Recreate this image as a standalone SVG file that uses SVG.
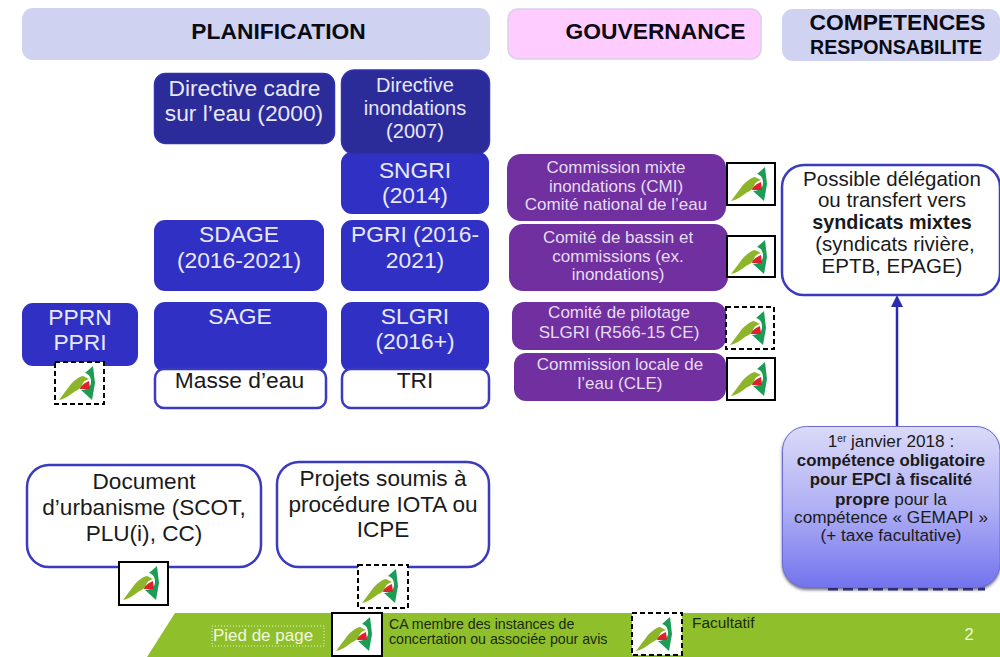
<svg xmlns="http://www.w3.org/2000/svg" width="1000" height="657" viewBox="0 0 1000 657">
<style>
text{font-family:"Liberation Sans",Arial,sans-serif;text-anchor:middle}
.hd{fill:#0a0a14;font-weight:bold;font-size:22.800px}
.w{fill:#e8e8f8;font-size:22.800px}
.w2{fill:#e8e8f8;font-size:20px}
.p{fill:#e6dcf0;font-size:17px}
.k{fill:#1a1a1a;font-size:22.800px}
.k2{fill:#1a1a1a;font-size:22.600px}
.c{fill:#1a1a1a;font-size:20.500px}
.s{fill:#1a1a1a;font-size:17.200px}
.f{fill:#1a2a10;font-size:14.200px;text-anchor:start}
.dk{fill:#2b2b99;stroke:#3232b4;stroke-width:1.5}
.bl{fill:#3030c4}
.pu{fill:#7030a0}
.wb{fill:#fff;stroke:#3b3bbf;stroke-width:2.5}
.lg{fill:#fff;stroke:#000;stroke-width:2}
.da{stroke-dasharray:5 3}
</style>
<defs>
<linearGradient id="g" x1="0" y1="0" x2="0" y2="1"><stop offset="0" stop-color="#dadaf8"/><stop offset="0.5" stop-color="#b0b0f5"/><stop offset="1" stop-color="#7373ee"/></linearGradient>
<g id="logo">
<path d="M4 38 L16 22 C20 18 25 14 28 14 L34 17 C30 18 28 20 27 23 C26 27 22 28 19 30 C14 34 9 37 4 38Z" fill="#8db52a"/>
<path d="M30 11 L38 4 L40 21 L37 38 L26 28 C33 28 36 24 36 20 C36 15 34 12 30 11Z" fill="#1d9c55"/>
<path d="M25 27 C26 23 30 21 34 19 L35 27Z" fill="#e0202c"/>
</g>
<filter id="sh" x="-5%" y="-5%" width="110%" height="110%"><feDropShadow dx="0" dy="2" stdDeviation="1.5" flood-color="#30305a" flood-opacity="0.7"/></filter>
</defs>
<rect width="1000" height="657" fill="#fff"/>

<g id="head-planification"><rect x="22" y="8" width="468" height="52" rx="11" fill="#cfd2f0"/><text class="hd" x="278.500" y="39">PLANIFICATION</text></g>
<g id="head-gouvernance"><rect x="508" y="9" width="253" height="50" rx="10" fill="#ffccff" stroke="#d9cfe8" stroke-width="1.5"/><text class="hd" x="655.500" y="39">GOUVERNANCE</text></g>
<g id="head-competences"><rect x="782" y="9" width="218" height="52" rx="11" fill="#cfd2f0"/><text class="hd" x="897.500" y="30">COMPETENCES</text><text class="hd" x="896" y="54" style="font-size:19.600px">RESPONSABILITE</text></g>

<g id="directive-cadre"><rect class="dk" x="154.500" y="73.500" width="180" height="70" rx="11"/><text class="w" x="244.500" y="96">Directive cadre</text><text class="w" x="244" y="121">sur l’eau (2000)</text></g>
<g id="sngri"><rect class="bl" x="341" y="152" width="148" height="62" rx="11"/><text class="w" x="415" y="178">SNGRI</text><text class="w" x="415" y="203">(2014)</text></g>
<g id="directive-inondations"><rect class="dk" x="341.500" y="70" width="148" height="84" rx="13"/><text class="w2" x="415" y="92">Directive</text><text class="w2" x="415" y="115">inondations</text><text class="w2" x="415" y="138">(2007)</text></g>
<g id="sdage"><rect class="bl" x="154" y="220" width="170" height="71" rx="11"/><text class="w" x="239" y="242">SDAGE</text><text class="w" x="239" y="268">(2016-2021)</text></g>
<g id="pgri"><rect class="bl" x="341" y="220" width="148" height="71" rx="11"/><text class="w" x="415" y="242">PGRI (2016-</text><text class="w" x="415" y="268">2021)</text></g>
<g id="pprn"><rect class="bl" x="22" y="303" width="116" height="63" rx="11"/><text class="w" x="80" y="325">PPRN</text><text class="w" x="80" y="350">PPRI</text></g>
<g id="logo-pprn"><rect class="lg da" x="55" y="362" width="49" height="42"/><use href="#logo" x="55" y="362"/></g>
<g id="sage"><rect class="bl" x="154" y="302" width="173" height="70" rx="11"/><text class="w" x="240" y="324">SAGE</text></g>
<g id="masse"><rect class="wb" x="155" y="369" width="171" height="39" rx="9"/><text class="k" x="239.500" y="388">Masse d’eau</text></g>
<g id="slgri"><rect class="bl" x="341" y="302" width="148" height="70" rx="11"/><text class="w" x="415" y="324">SLGRI</text><text class="w" x="415" y="349">(2016+)</text></g>
<g id="tri"><rect class="wb" x="342" y="369" width="147" height="39" rx="9"/><text class="k" x="415" y="388">TRI</text></g>

<g id="cmi"><rect class="pu" x="507" y="154" width="219" height="67" rx="14"/><text class="p" x="616" y="173">Commission mixte</text><text class="p" x="616" y="192">inondations (CMI)</text><text class="p" x="616" y="210">Comité national de l’eau</text></g>
<g id="logo-cmi"><rect class="lg" x="727" y="163" width="48" height="42"/><use href="#logo" x="727" y="163"/></g>
<g id="bassin"><rect class="pu" x="509" y="224" width="219" height="67" rx="14"/><text class="p" x="618" y="243">Comité de bassin et</text><text class="p" x="618" y="262">commissions (ex.</text><text class="p" x="618" y="280">inondations)</text></g>
<g id="logo-bassin"><rect class="lg" x="727" y="236" width="48" height="41"/><use href="#logo" x="727" y="236"/></g>
<g id="pilotage"><rect class="pu" x="512" y="302" width="214" height="48" rx="12"/><text class="p" x="619" y="318">Comité de pilotage</text><text class="p" x="619" y="338">SLGRI (R566-15 CE)</text></g>
<g id="logo-pilotage"><rect class="lg da" x="726" y="307" width="48" height="42"/><use href="#logo" x="726" y="307"/></g>
<g id="cle"><rect class="pu" x="514" y="353" width="212" height="48" rx="12"/><text class="p" x="620" y="370">Commission locale de</text><text class="p" x="620" y="389">l’eau (CLE)</text></g>
<g id="logo-cle"><rect class="lg" x="727" y="358" width="48" height="42"/><use href="#logo" x="727" y="358"/></g>

<g id="connectors"><path d="M897 426V305" stroke="#2a2ab0" stroke-width="2.500" fill="none"/><path d="M897 295l-6 12h12z" fill="#2a2ab0"/></g>

<g id="delegation"><rect class="wb" x="782" y="165" width="218" height="130" rx="22"/><text class="c" x="892" y="186">Possible délégation</text><text class="c" x="892" y="207">ou transfert vers</text><text class="c" x="892" y="229" font-weight="bold" style="font-size:19.800px">syndicats mixtes</text><text class="c" x="895" y="251">(syndicats rivière,</text><text class="c" x="892" y="273">EPTB, EPAGE)</text></g>
<g id="gemapi"><path d="M828 589H985" stroke="#26268c" stroke-width="3" stroke-dasharray="10 5"/><rect x="782.500" y="426.500" width="217.500" height="161" rx="24" fill="url(#g)" stroke="#6a6ad0" stroke-width="1" filter="url(#sh)"/>
<text class="s" x="891" y="447">1<tspan font-size="10" dy="-5">er</tspan><tspan dy="5"> janvier 2018 :</tspan></text><text class="s" x="891" y="466" font-weight="bold" style="font-size:16.800px">compétence obligatoire</text><text class="s" x="891" y="485" font-weight="bold" style="font-size:16.800px">pour EPCI à fiscalité</text><text class="s" x="891" y="505"><tspan font-weight="bold">propre</tspan> pour la</text><text class="s" x="891" y="523">compétence « GEMAPI »</text><text class="s" x="891" y="541">(+ taxe facultative)</text></g>

<g id="urbanisme"><rect class="wb" x="27" y="465" width="234" height="102" rx="22"/><text class="k2" x="144" y="489">Document</text><text class="k2" x="144" y="515">d’urbanisme (SCOT,</text><text class="k2" x="144" y="541">PLU(i), CC)</text></g>
<g id="logo-urbanisme"><rect class="lg" x="119" y="562" width="49" height="43"/><use href="#logo" x="119" y="562"/></g>
<g id="projets"><rect class="wb" x="277" y="462" width="212" height="105" rx="22"/><text class="k2" x="383" y="486">Projets soumis à</text><text class="k2" x="383" y="512">procédure IOTA ou</text><text class="k2" x="383" y="537">ICPE</text></g>
<g id="logo-projets"><rect class="lg da" x="358" y="565" width="50" height="43"/><use href="#logo" x="358" y="565"/></g>

<g id="footer"><path d="M175 613H1000V657H147Z" fill="#8fc02b"/>
<rect x="212" y="626" width="112" height="20" fill="none" stroke="#e8f2c8" stroke-dasharray="1 2"/><text x="263" y="641" style="font-size:17px" fill="#f2f7e0">Pied de page</text>
<rect class="lg" x="332" y="613" width="50" height="43"/><use href="#logo" x="332" y="613"/>
<text class="f" x="389" y="629">CA membre des instances de</text><text class="f" x="389" y="644">concertation ou associée pour avis</text>
<rect class="lg da" x="632" y="613" width="50" height="42"/><use href="#logo" x="632" y="613"/>
<text class="f" x="692" y="628" style="font-size:15.400px">Facultatif</text><text x="969" y="640" style="font-size:16.500px" fill="#f2f7e0">2</text></g>
</svg>
